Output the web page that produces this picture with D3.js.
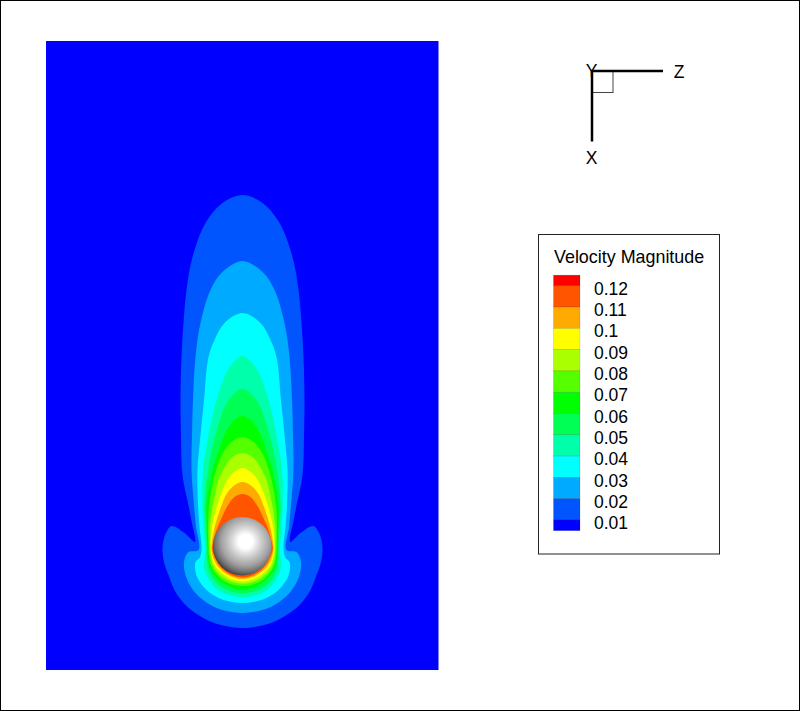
<!DOCTYPE html>
<html>
<head>
<meta charset="utf-8">
<script src="https://d3js.org/d3.v7.min.js"></script>
<style>
  body { margin: 0; background: #fff; }
  svg { display: block; }
  text { font-family: "Liberation Sans", sans-serif; fill: #000; }
</style>
</head>
<body>
<svg id="chart" width="800" height="711"></svg>
<script>
// each contour: half width, distance along X from the sphere centre (mirrored about the axis)
var contour01 = [[0,-352],[20,-344],[37,-324],[50,-290],[56,-257],[59,-224],[61,-190],[62,-147],[61.5,-112],[60.5,-77],[58,-60],[54.5,-44],[51,-26],[47.5,-5],[58,-14],[70.8,-21],[77,-13],[80,1],[78,17],[74,28],[67,45],[55,60],[44,68],[31,75],[17,79],[0,81]];
var contour02 = [[0,-286],[20,-275],[32,-257],[42,-224],[47,-190],[49.5,-147],[50.5,-112],[51,-77],[48.5,-42],[46.5,-20],[44,3],[54,5],[58.5,15],[56,31],[47,46],[32,58],[18,63.5],[0,66]];
var contour03 = [[0,-234],[18,-224],[28,-207],[34,-190],[38.5,-147],[42,-112],[45,-77],[44.5,-42],[43,-20],[41,0],[42.5,10],[47,15],[47.5,21],[45,31],[36,43],[24,51],[12,54.8],[0,56]];
var contour04 = [[0,-191],[13,-180],[20,-165],[26,-147],[34,-112],[39.5,-77],[40,-42],[39,-20],[37.5,0],[38,11],[38.5,21],[32,35],[23,44],[12,48.5],[0,50]];
var contour05 = [[0,-158],[14.5,-146],[27,-112],[34.5,-77],[38,-42],[36.5,-15],[36,0],[35.5,15],[32,28],[24,38],[12,44.5],[0,46]];
var contour06 = [[0,-131],[10,-125],[18,-112],[25,-93],[30,-77],[36,-42],[35.5,-15],[35,0],[34.5,12],[31,24],[21,35],[10,41],[0,43]];
var contour07 = [[0,-110],[11,-105],[19,-95],[24,-84],[29,-67],[33,-45],[34.5,-20],[34,0],[33.5,10],[30,22],[20,33],[10,37.5],[0,39]];
var contour08 = [[0,-94],[10,-90],[17,-81],[24,-67],[28,-50],[31,-35],[33,-15],[33,0],[32.5,8],[29,20],[20,30],[10,35],[0,36.5]];
var contour09 = [[0,-79],[7,-76],[14,-69],[21.5,-53],[27.5,-34],[31,-17],[32,0],[31.5,6],[28,18],[20,27],[10,32.5],[0,34.5]];
var contour10 = [[0,-65],[9,-61],[16,-53],[21.5,-40],[25.5,-28],[28.5,-17],[31,0],[30.5,6],[27,16],[20,24],[10,30],[0,32]];
var contour11 = [[0,-53],[8,-50],[15,-41],[20,-31],[26,-17],[30.3,0],[30,4],[26,14],[20,22],[10,28.5],[0,30.5]];

var contours = [contour01, contour02, contour03, contour04, contour05, contour06, contour07, contour08, contour09, contour10, contour11];
var contourLevels = [0.01, 0.02, 0.03, 0.04, 0.05, 0.06, 0.07, 0.08, 0.09, 0.1, 0.11];

// legend, top band first
var bandColors = ["#ff0000", "#ff5500", "#ffaa00", "#ffff00", "#aaff00", "#55ff00", "#00ff00", "#00ff55", "#00ffaa", "#00ffff", "#00aaff", "#0055ff", "#0000ff"];
var bandEdges = [0.125, 0.12, 0.11, 0.1, 0.09, 0.08, 0.07, 0.06, 0.05, 0.04, 0.03, 0.02, 0.01, 0.005];
var legendTicks = [0.12, 0.11, 0.1, 0.09, 0.08, 0.07, 0.06, 0.05, 0.04, 0.03, 0.02, 0.01];
var legendTitle = "Velocity Magnitude";

var sphereCentre = [-0.3, -0.7];
var sphereRadius = 29.3;

var svg = d3.select("#chart");

svg.append("rect")
  .attr("x", 0.5).attr("y", 0.5)
  .attr("width", 799).attr("height", 710)
  .attr("fill", "#fff")
  .attr("stroke", "#000");

var zScale = d3.scaleLinear().domain([-196.5, 196]).range([46, 438.5]);
var xScale = d3.scaleLinear().domain([-506, 123]).range([41, 670]);

// background band
svg.append("rect")
  .attr("x", zScale(-196.5)).attr("y", xScale(-506))
  .attr("width", zScale(196) - zScale(-196.5))
  .attr("height", xScale(123) - xScale(-506))
  .attr("fill", bandColors[12]);

var contourLine = d3.line()
  .x(function (d) { return zScale(d[0]); })
  .y(function (d) { return xScale(d[1]); })
  .curve(d3.curveCatmullRomClosed.alpha(0.5));

// one half down the right side, the other back up the left side
function mirror(pts) {
  var left = pts.slice(1, -1).reverse().map(function (d) { return [-d[0], d[1]]; });
  return pts.concat(left);
}

svg.selectAll(".contour")
  .data(contours)
  .enter().append("path")
  .attr("class", "contour")
  .attr("d", function (d) { return contourLine(mirror(d)); })
  .attr("fill", function (d, i) { return bandColors[11 - i]; })
  .attr("data-level", function (d, i) { return contourLevels[i]; });

// sphere
var defs = svg.append("defs");
var grad = defs.append("radialGradient")
  .attr("id", "sphereShade")
  .attr("gradientUnits", "userSpaceOnUse")
  .attr("cx", zScale(3)).attr("cy", xScale(-5.5))
  .attr("r", 36);
grad.append("stop").attr("offset", 0).attr("stop-color", "#fff");
grad.append("stop").attr("offset", 0.2).attr("stop-color", "#fff");
grad.append("stop").attr("offset", 0.42).attr("stop-color", "#d0d0d0");
grad.append("stop").attr("offset", 0.68).attr("stop-color", "#a0a0a0");
grad.append("stop").attr("offset", 0.85).attr("stop-color", "#707070");
grad.append("stop").attr("offset", 0.97).attr("stop-color", "#404040");

svg.append("circle")
  .attr("cx", zScale(sphereCentre[0])).attr("cy", xScale(sphereCentre[1]))
  .attr("r", zScale(sphereRadius) - zScale(0))
  .attr("fill", "url(#sphereShade)");

// axis triad
var triad = svg.append("g").attr("class", "triad");
triad.append("rect")
  .attr("x", 592).attr("y", 71)
  .attr("width", 21).attr("height", 21.5)
  .attr("fill", "none").attr("stroke", "#444").attr("stroke-width", 1);
triad.append("line")
  .attr("x1", 592).attr("y1", 71).attr("x2", 663).attr("y2", 71)
  .attr("stroke", "#000").attr("stroke-width", 2.5);
triad.append("line")
  .attr("x1", 592).attr("y1", 70).attr("x2", 592).attr("y2", 141.5)
  .attr("stroke", "#000").attr("stroke-width", 2.5);
triad.append("text").attr("x", 591.5).attr("y", 77).attr("text-anchor", "middle").style("font-size", "17.5px").text("Y");
triad.append("text").attr("x", 679).attr("y", 77.5).attr("text-anchor", "middle").style("font-size", "17.5px").text("Z");
triad.append("text").attr("x", 591.5).attr("y", 164).attr("text-anchor", "middle").style("font-size", "17.5px").text("X");

// legend
var legend = svg.append("g").attr("class", "legend");
legend.append("rect")
  .attr("x", 538.5).attr("y", 234.5)
  .attr("width", 181).attr("height", 319.5)
  .attr("fill", "#fff").attr("stroke", "#222");

legend.append("text")
  .attr("x", 554).attr("y", 263)
  .style("font-size", "17.9px")
  .text(legendTitle);

var legendY = d3.scaleLinear().domain([0.12, 0.01]).range([285.8, 520]);

legend.selectAll(".band")
  .data(bandColors)
  .enter().append("rect")
  .attr("class", "band")
  .attr("x", 553.5).attr("width", 26.5)
  .attr("y", function (d, i) { return legendY(bandEdges[i]); })
  .attr("height", function (d, i) { return legendY(bandEdges[i + 1]) - legendY(bandEdges[i]); })
  .attr("fill", function (d) { return d; })
  .attr("stroke", "#000")
  .attr("stroke-opacity", 0.2)
  .attr("stroke-width", 0.6);

var legendAxis = d3.axisRight(legendY)
  .tickValues(legendTicks)
  .tickFormat(function (d) { return String(d); })
  .tickSize(0)
  .tickPadding(0);

var axisG = legend.append("g")
  .attr("transform", "translate(594,3)")
  .call(legendAxis);
axisG.select(".domain").remove();
axisG.selectAll("text")
  .style("font-size", "17.5px")
  .style("font-family", "\"Liberation Sans\", sans-serif");
</script>
</body>
</html>
